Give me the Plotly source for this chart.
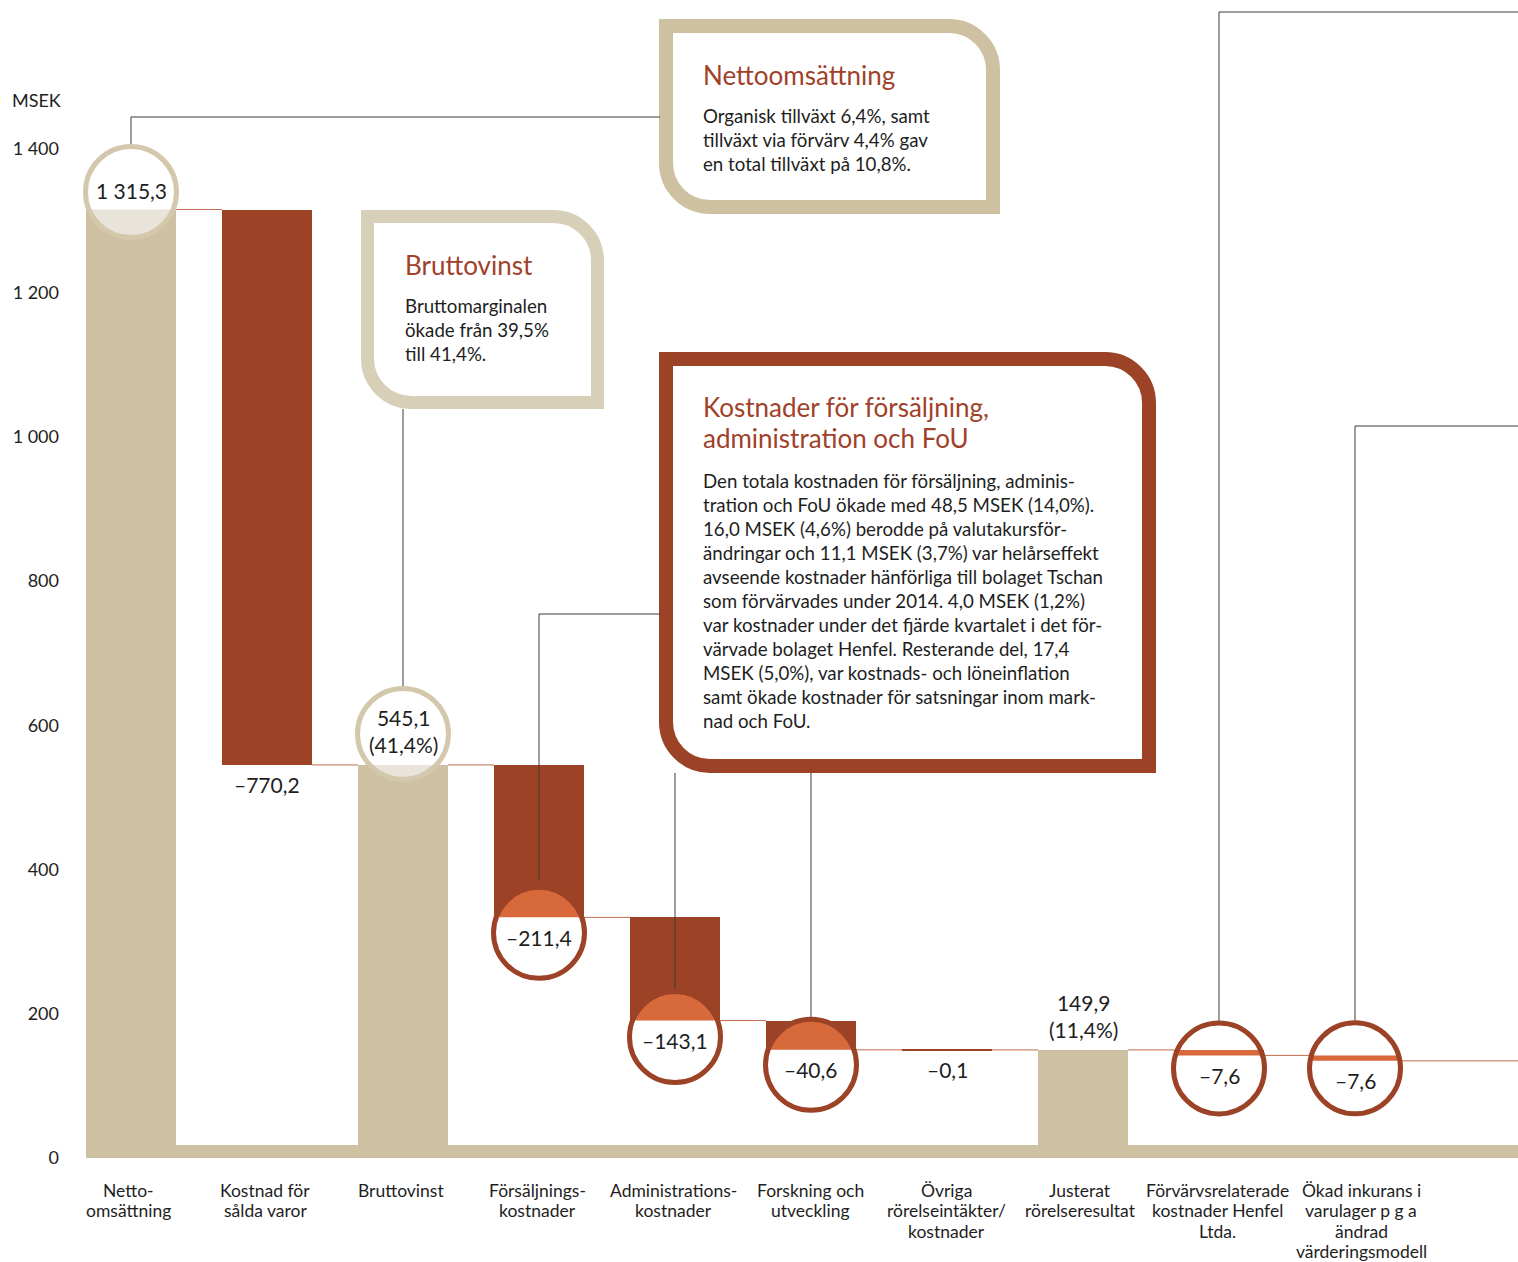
import math
import plotly.graph_objects as go

# ---------------- data ----------------
categories = [
    "Nettoomsättning", "Kostnad för sålda varor", "Bruttovinst",
    "Försäljningskostnader", "Administrationskostnader", "Forskning och utveckling",
    "Övriga rörelseintäkter/kostnader", "Justerat rörelseresultat",
    "Förvärvsrelaterade kostnader Henfel Ltda.",
    "Ökad inkurans i varulager p g a ändrad värderingsmodell",
]
category_lines = [
    ["Netto-", "omsättning"],
    ["Kostnad för", "sålda varor"],
    ["Bruttovinst"],
    ["Försäljnings-", "kostnader"],
    ["Administrations-", "kostnader"],
    ["Forskning och", "utveckling"],
    ["Övriga", "rörelseintäkter/", "kostnader"],
    ["Justerat", "rörelseresultat"],
    ["Förvärvsrelaterade", "kostnader Henfel", "Ltda."],
    ["Ökad inkurans i", "varulager p g a", "ändrad", "värderingsmodell"],
]
measures = ["absolute", "relative", "total", "relative", "relative",
            "relative", "relative", "total", "relative", "relative"]
values = [1315.3, -770.2, None, -211.4, -143.1, -40.6, -0.1, None, -7.6, -7.6]
circled = [True, False, True, True, True, True, False, False, True, True]

y_tick_values = [0, 200, 400, 600, 800, 1000, 1200, 1400]
y_tick_labels = ["0", "200", "400", "600", "800", "1 000", "1 200", "1 400"]
y_unit = "MSEK"

box_netto_title = "Nettoomsättning"
box_netto_body = ["Organisk tillväxt 6,4%, samt",
                  "tillväxt via förvärv 4,4% gav",
                  "en total tillväxt på 10,8%."]
box_brutto_title = "Bruttovinst"
box_brutto_body = ["Bruttomarginalen", "ökade från 39,5%", "till 41,4%."]
box_cost_title = ["Kostnader för försäljning,", "administration och FoU"]
box_cost_body = [
    "Den totala kostnaden för försäljning, adminis-",
    "tration och FoU ökade med 48,5 MSEK (14,0%).",
    "16,0 MSEK (4,6%) berodde på valutakursför-",
    "ändringar och 11,1 MSEK (3,7%) var helårseffekt",
    "avseende kostnader hänförliga till bolaget Tschan",
    "som förvärvades under 2014. 4,0 MSEK (1,2%)",
    "var kostnader under det fjärde kvartalet i det för-",
    "värvade bolaget Henfel. Resterande del, 17,4",
    "MSEK (5,0%), var kostnads- och löneinflation",
    "samt ökade kostnader för satsningar inom mark-",
    "nad och FoU.",
]

# ---------------- layout constants (pixels) ----------------
W, H = 1518, 1262
ML, MB = 62, 104
CAT_PX = 136
X0_PX = 131
Y0_PX = 1158
PX_PER_UNIT = 0.7211
BAR_W = 90 / CAT_PX
R_CIRCLE = 45.5

FONT = "Lato"
BEIGE = "#CEC1A3"
BEIGE_RING = "#D3C7AC"
BEIGE_LIGHT = "#E9E4D9"
BOX_BEIGE_1 = "#CEC1A2"
BOX_BEIGE_2 = "#D8CFB9"
RED = "#9C4226"
ORANGE = "#D8693B"
CONNECT = "#C06B4E"
TEXT = "#1E1E1E"
TITLE = "#A0412A"
LEADER = "#3A3A3A"

label_xshift = [-3, -2, -2, -2, -2, -1, -1, -3, -2, 6]


def dx(px):
    return (px - X0_PX) / CAT_PX


def dy(py):
    return (Y0_PX - py) / PX_PER_UNIT


def fmt(v):
    s = f"{abs(v):,.1f}".replace(",", " ").replace(".", ",")
    return ("–" + s) if v < 0 else s


# ---------------- waterfall computation ----------------
n = len(categories)
xs = list(range(n))
bases, heights, ends = [], [], []
level = 0.0
for m, v in zip(measures, values):
    if m == "absolute":
        bases.append(0.0); heights.append(v); level = v
    elif m == "total":
        bases.append(0.0); heights.append(level)
    else:
        new = level + v
        bases.append(min(level, new)); heights.append(abs(v)); level = new
    ends.append(level)
level_total = [bases[i] + heights[i] for i in range(n)]
net_sales = values[0]

colors = [BEIGE if m != "relative" else RED for m in measures]
line_w = [2 if (m == "relative" and h * PX_PER_UNIT < 2) else 0 for m, h in zip(measures, heights)]

fig = go.Figure()
fig.add_trace(go.Bar(
    x=xs, y=heights, base=bases, width=BAR_W,
    marker=dict(color=colors, line=dict(color=RED, width=line_w)),
    hoverinfo="skip", showlegend=False,
))

# connectors
cx, cy = [], []
for i in range(n):
    x_start = i + BAR_W / 2
    x_end = (i + 1 - BAR_W / 2) if i < n - 1 else dx(W)
    cx += [x_start, x_end, None]
    cy += [ends[i], ends[i], None]
fig.add_trace(go.Scatter(x=cx, y=cy, mode="lines",
                         line=dict(color=CONNECT, width=1),
                         hoverinfo="skip", showlegend=False))

shapes = []
annotations = []

# bottom band
shapes.append(dict(type="rect", xref="x", yref="y", x0=-BAR_W / 2, x1=dx(W),
                   y0=0, y1=13 / PX_PER_UNIT, fillcolor=BEIGE, line=dict(width=0),
                   layer="above"))


# ---------------- boxes ----------------
def box_path(x0, y0, x1, y1, r):
    k = 0.5523 * r
    pts = [
        ("M", [(x0, y0)]),
        ("L", [(x1 - r, y0)]),
        ("C", [(x1 - r + k, y0), (x1, y0 + r - k), (x1, y0 + r)]),
        ("L", [(x1, y1)]),
        ("L", [(x0 + r, y1)]),
        ("C", [(x0 + r - k, y1), (x0, y1 - r + k), (x0, y1 - r)]),
    ]
    s = ""
    for cmd, ps in pts:
        s += cmd + " ".join(f"{dx(px):.5f},{dy(py):.4f}" for px, py in ps) + " "
    return s + "Z"


def add_box(x0, y0, x1, y1, t, r, color):
    shapes.append(dict(type="path", xref="x", yref="y",
                       path=box_path(x0 + t / 2, y0 + t / 2, x1 - t / 2, y1 - t / 2, r),
                       fillcolor="white", line=dict(color=color, width=t), layer="above"))


add_box(659, 19, 1000, 214, 14, 44, BOX_BEIGE_1)
add_box(361, 210, 604, 409, 13, 44, BOX_BEIGE_2)
add_box(659, 352, 1156, 773, 14, 44, RED)


def ann_px(px, py, text, size, color=TEXT, xanchor="left"):
    annotations.append(dict(x=dx(px), y=dy(py), xref="x", yref="y", text=text,
                            showarrow=False, xanchor=xanchor, yanchor="middle",
                            xshift=-2,
                            font=dict(family=FONT, size=size, color=color)))


ann_px(703, 75, box_netto_title, 26, TITLE)
for k, line in enumerate(box_netto_body):
    ann_px(703, 116 + 24 * k, line, 18.7)
ann_px(405, 265, box_brutto_title, 26, TITLE)
for k, line in enumerate(box_brutto_body):
    ann_px(405, 306 + 24 * k, line, 18.7)
for k, line in enumerate(box_cost_title):
    ann_px(703, 407 + 31 * k, line, 26, TITLE)
for k, line in enumerate(box_cost_body):
    ann_px(703, 481 + 24 * k, line, 18.7)

# ---------------- circles ----------------
# circle centre offset (px, positive = up) relative to the bar edge it sits on
circle_offset = {0: 17.5, 2: 31, 3: -15.5, 4: -16.5, 5: -15, 8: -13, 9: -7.5}


def band_path(off, r, lo, hi, half_w):
    a = max(lo, off - r)
    b = min(hi, off + r)
    if b <= a:
        return None
    steps = 60
    right, left = [], []
    for s in range(steps + 1):
        yy = a + (b - a) * s / steps
        xx = math.sqrt(max(r * r - (yy - off) ** 2, 0))
        xx = min(xx, half_w)
        right.append((xx, yy))
        left.append((-xx, yy))
    pts = right + left[::-1]
    return "M" + " L".join(f"{p[0]:.2f},{p[1]:.2f}" for p in pts) + " Z"


for i in xs:
    if not circled[i]:
        continue
    is_total = measures[i] != "relative"
    anchor = level_total[i] if is_total else bases[i]
    off = circle_offset[i]
    ring = BEIGE_RING if is_total else RED
    inner = BEIGE_LIGHT if is_total else ORANGE
    common = dict(xref="x", yref="y", xsizemode="pixel", ysizemode="pixel",
                  xanchor=i, yanchor=anchor, layer="above")
    shapes.append(dict(type="circle", x0=-R_CIRCLE, x1=R_CIRCLE,
                       y0=off - R_CIRCLE, y1=off + R_CIRCLE,
                       fillcolor="white", line=dict(width=0), **common))
    if is_total:
        lo, hi = -heights[i] * PX_PER_UNIT, 0
    else:
        lo, hi = 0, heights[i] * PX_PER_UNIT
    p = band_path(off, R_CIRCLE, lo, hi, 45)
    if p:
        shapes.append(dict(type="path", path=p, fillcolor=inner,
                           line=dict(width=0), **common))
    shapes.append(dict(type="circle", x0=-R_CIRCLE, x1=R_CIRCLE,
                       y0=off - R_CIRCLE, y1=off + R_CIRCLE,
                       fillcolor="rgba(0,0,0,0)", line=dict(color=ring, width=5), **common))


# ---------------- leader lines ----------------
def circle_top(i):
    is_total = measures[i] != "relative"
    anchor = level_total[i] if is_total else bases[i]
    return anchor + (circle_offset[i] + R_CIRCLE + 2) / PX_PER_UNIT


leaders = [
    [(0, circle_top(0)), (0, dy(117)), (dx(660), dy(117))],
    [(2, circle_top(2)), (2, dy(409))],
    [(3, circle_top(3) + 5 / PX_PER_UNIT), (3, dy(614)), (dx(660), dy(614))],
    [(4, circle_top(4)), (4, dy(773))],
    [(5, circle_top(5)), (5, dy(773))],
    [(8, circle_top(8)), (8, dy(12)), (dx(W), dy(12))],
    [(9, circle_top(9)), (9, dy(426)), (dx(W), dy(426))],
]
for pts in leaders:
    path = "M" + " L".join(f"{x:.5f},{y:.4f}" for x, y in pts)
    shapes.insert(4, dict(type="path", xref="x", yref="y", path=path,
                          line=dict(color=LEADER, width=1), layer="above"))

# ---------------- value labels ----------------
for i in xs:
    is_total = measures[i] != "relative"
    if is_total:
        txt = fmt(level_total[i])
        if i > 0:
            txt += "<br>" + f"({level_total[i] / net_sales * 100:.1f}%)".replace(".", ",")
            shift = 34
        else:
            shift = 19.5
        annotations.append(dict(x=i, y=level_total[i], xref="x", yref="y", text=txt,
                                showarrow=False, yshift=shift, xanchor="center",
                                yanchor="middle",
                                font=dict(family=FONT, size=21, color=TEXT)))
    else:
        annotations.append(dict(x=i, y=bases[i], xref="x", yref="y", text=fmt(values[i]),
                                showarrow=False, yshift=-20, xanchor="center",
                                yanchor="middle",
                                font=dict(family=FONT, size=21, color=TEXT)))

# ---------------- category labels ----------------
for i, lines in enumerate(category_lines):
    for k, line in enumerate(lines):
        annotations.append(dict(x=i, y=0, xref="x", yref="y", text=line,
                                showarrow=False, xanchor="center", yanchor="middle",
                                xshift=label_xshift[i], yshift=-(32 + 20.6 * k),
                                font=dict(family=FONT, size=17.5, color=TEXT)))

# unit label
annotations.append(dict(x=(10 - ML) / (W - ML), y=dy(100), xref="paper", yref="y",
                        text=y_unit, showarrow=False, xanchor="left", yanchor="middle",
                        font=dict(family=FONT, size=18, color=TEXT)))

fig.update_layout(
    width=W, height=H,
    margin=dict(l=ML, r=0, t=0, b=MB, pad=0),
    paper_bgcolor="white", plot_bgcolor="white",
    bargap=0, showlegend=False,
    shapes=shapes, annotations=annotations,
    xaxis=dict(range=[dx(ML), dx(W)], showgrid=False, zeroline=False,
               showticklabels=False, ticks="", showline=False, fixedrange=True),
    yaxis=dict(range=[0, dy(0)], showgrid=False, zeroline=False, showline=False,
               ticks="", tickvals=y_tick_values, ticktext=y_tick_labels,
               tickfont=dict(family=FONT, size=18, color=TEXT),
               ticklabelstandoff=2, fixedrange=True),
)

fig.write_html("out.html")
